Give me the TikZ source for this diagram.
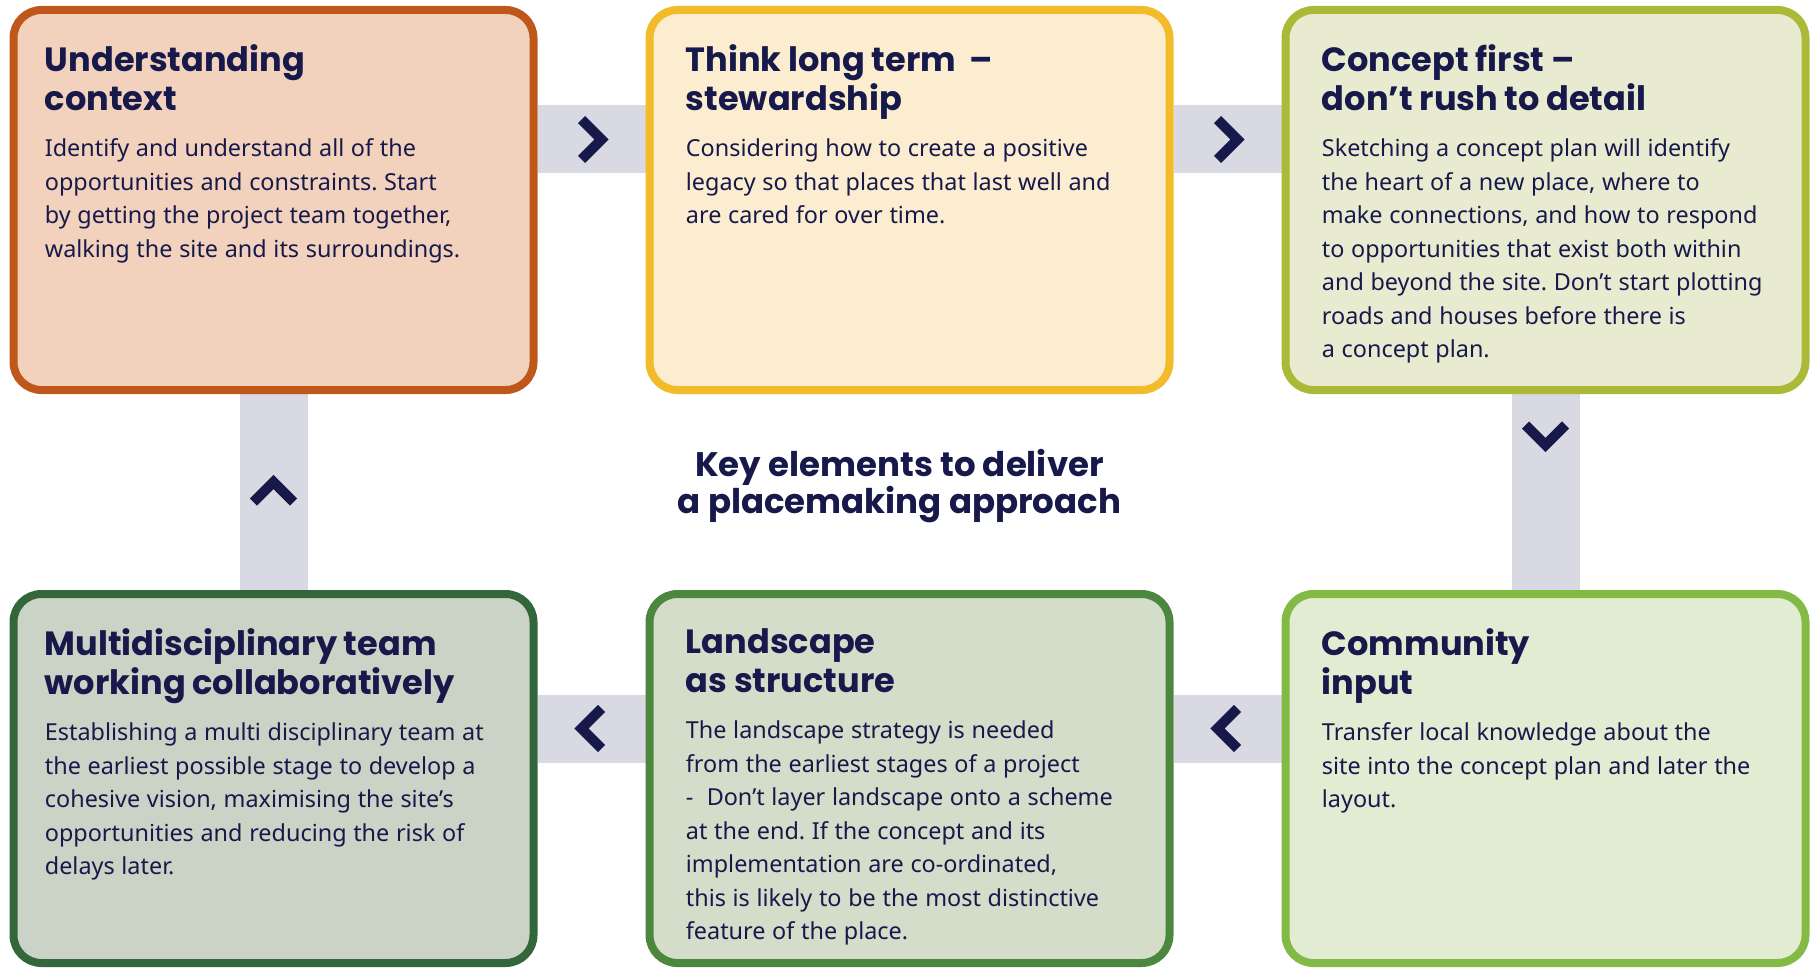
\documentclass[tikz,border=0pt]{standalone}
\usepackage{fontspec}
\setmainfont{Noto Sans}
\newfontfamily\headfont{Poppins}
\usetikzlibrary{positioning,calc,backgrounds}
\frenchspacing

\definecolor{navy}{HTML}{16194A}
\definecolor{barc}{HTML}{D9D9E3}
\definecolor{ctxfill}{HTML}{F2D2BC}  \definecolor{ctxline}{HTML}{C0571A}
\definecolor{ltfill}{HTML}{FCEDD0}   \definecolor{ltline}{HTML}{F2BB2A}
\definecolor{cpfill}{HTML}{E9EBD1}   \definecolor{cpline}{HTML}{ABB937}
\definecolor{cmfill}{HTML}{E2ECD3}   \definecolor{cmline}{HTML}{82BA45}
\definecolor{lsfill}{HTML}{D3DDC9}   \definecolor{lsline}{HTML}{4B873D}
\definecolor{mdfill}{HTML}{CAD3C6}   \definecolor{mdline}{HTML}{33663B}

\newcommand{\cardtext}[2]{{\headfont\bfseries\fontsize{16.8pt}{19.5pt}\selectfont #1\par}%
  \vspace{6.5pt}{\fontsize{11.7pt}{16.75pt}\selectfont #2\par}}

\tikzset{
  card/.style={rectangle, rounded corners=14pt, line width=4pt,
    minimum width=260pt, minimum height=190pt},
  cardtext/.style={anchor=north west, inner sep=0pt, text width=240pt,
    align=left, text=navy},
  bar/.style={draw=barc, line width=34pt},
  chev/.pic={\draw[navy, line width=5pt, line join=miter]
    (-5pt,10pt) -- (5pt,0pt) -- (-5pt,-10pt);}
}

\begin{document}
\begin{tikzpicture}[x=0.5pt, y=-0.5pt, node distance=98pt and 54pt]
\useasboundingbox (0,0) rectangle (1813,968);

% top row
\node[card, fill=ctxfill, draw=ctxline] (ctx) at (273.5,200) {};
\node[card, fill=ltfill, draw=ltline, right=of ctx] (longterm) {};
\node[card, fill=cpfill, draw=cpline, right=of longterm] (concept) {};
% bottom row
\node[card, minimum height=184.5pt, fill=mdfill, draw=mdline, below=of ctx] (multi) {};
\node[card, minimum height=184.5pt, fill=lsfill, draw=lsline, below=of longterm] (landscape) {};
\node[card, minimum height=184.5pt, fill=cmfill, draw=cmline, below=of concept] (community) {};

\node[cardtext] (ctxtext) at ([xshift=17.5pt, yshift=-19pt]ctx.north west)
  {\cardtext{Understanding\\context}
  {Identify and understand all of the\\opportunities and constraints. Start\\by getting the project team together,\\walking the site and its surroundings.}};
\node[cardtext] (lttext) at ([xshift=20pt, yshift=-19pt]longterm.north west)
  {\cardtext{Think long term~ –\\stewardship}
  {Considering how to create a positive\\legacy so that places that last well and\\are cared for over time.}};
\node[cardtext] (cptext) at ([xshift=20pt, yshift=-19pt]concept.north west)
  {\cardtext{Concept first –\\don’t rush to detail}
  {Sketching a concept plan will identify\\the heart of a new place, where to\\make connections, and how to respond\\to opportunities that exist both within\\and beyond the site. Don’t start plotting\\roads and houses before there is\\a concept plan.}};
\node[cardtext] (cmtext) at ([xshift=20pt, yshift=-19pt]community.north west)
  {\cardtext{Community\\input}
  {Transfer local knowledge about the\\site into the concept plan and later the\\layout.}};
\node[cardtext] (lstext) at ([xshift=20pt, yshift=-19pt]landscape.north west)
  {\cardtext{Landscape\\as structure}
  {The landscape strategy is needed\\from the earliest stages of a project\\-~ Don’t layer landscape onto a scheme\\at the end. If the concept and its\\implementation are co-ordinated,\\this is likely to be the most distinctive\\feature of the place.}};
\node[cardtext] (mdtext) at ([xshift=17.5pt, yshift=-19pt]multi.north west)
  {\cardtext{Multidisciplinary team\\working collaboratively}
  {Establishing a multi disciplinary team at\\the earliest possible stage to develop a\\cohesive vision, maximising the site’s\\opportunities and reducing the risk of\\delays later.}};

\node[align=center, text=navy, font=\headfont\bfseries\fontsize{17pt}{18.5pt}\selectfont]
  (keytitle) at ([xshift=-5pt, yshift=3pt]$(longterm.south)!.5!(landscape.north)$)
  {Key elements to deliver\\a placemaking approach};

% connectors
\begin{scope}[on background layer]
\draw[bar] ([yshift=-66.75pt]ctx.north east) -- ([yshift=-66.75pt]longterm.north west) coordinate[pos=.5] (m1);
\draw[bar] ([yshift=-66.75pt]longterm.north east) -- ([yshift=-66.75pt]concept.north west) coordinate[pos=.5] (m2);
\draw[bar] (concept.south) -- (community.north);
\draw[bar] ([yshift=-69.25pt]community.north west) -- ([yshift=-69.25pt]landscape.north east) coordinate[pos=.5] (m4);
\draw[bar] ([yshift=-69.25pt]landscape.north west) -- ([yshift=-69.25pt]multi.north east) coordinate[pos=.5] (m5);
\draw[bar] (multi.north) -- (ctx.south) coordinate[pos=.5] (m6);
\end{scope}

\pic at (m1) {chev};
\pic at (m2) {chev};
\pic[rotate=-90] at ([yshift=-20.5pt]concept.south) {chev};
\pic[rotate=180] at (m4) {chev};
\pic[rotate=180] at (m5) {chev};
\pic[rotate=90] at (m6) {chev};
\end{tikzpicture}
\end{document}
